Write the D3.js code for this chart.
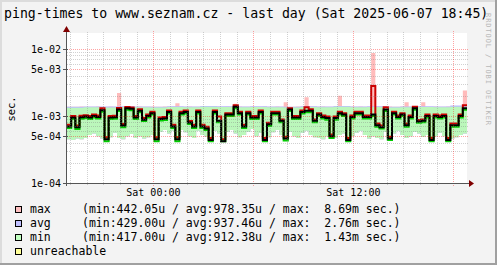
<!DOCTYPE html>
<html>
<head>
<meta charset="utf-8">
<script src="https://cdn.jsdelivr.net/npm/d3@7"></script>
<style>
  html, body { margin: 0; padding: 0; background: #f3f3f3; }
  svg { display: block; font-family: "DejaVu Sans Mono", monospace; }
  text { white-space: pre; }
</style>
</head>
<body>
<svg id="chart" width="497" height="265"></svg>
<script>
'use strict';

// ── Data (milliseconds, one value per 15 min, Fri 18:49 → Sat 18:49) ──
const avgRtt = [
  0.70, 0.95, 0.68, 0.96, 0.98, 0.95, 1.00, 0.97, 1.22, 0.45, 0.95, 0.96, 1.25, 0.72, 1.30, 1.28,
  0.95, 1.20, 0.88, 1.00, 1.10, 0.45, 0.90, 0.92, 1.15, 0.70, 0.45, 1.10, 1.15, 0.80, 0.70, 1.15,
  0.70, 0.65, 0.44, 1.15, 0.85, 0.42, 1.05, 1.05, 1.38, 1.10, 0.70, 1.10, 0.95, 0.95, 1.15, 0.44,
  0.75, 1.10, 1.10, 0.85, 0.46, 1.25, 0.95, 0.95, 1.15, 1.20, 1.20, 0.85, 1.05, 0.97, 0.93, 0.50,
  0.93, 1.10, 1.05, 0.44, 0.97, 1.10, 1.10, 0.97, 0.97, 1.05, 0.73, 0.68, 1.25, 0.46, 1.10, 0.97,
  1.05, 0.73, 0.97, 1.30, 0.83, 0.85, 1.00, 0.44, 1.00, 0.97, 1.00, 0.44, 0.73, 0.73, 1.00, 1.30
];
const maxRtt = [
  0.74, 1.00, 0.72, 1.01, 1.03, 1.00, 1.05, 1.02, 1.30, 0.48, 1.00, 1.01, 1.32, 0.76, 1.36, 1.34,
  1.00, 1.26, 0.93, 1.05, 1.16, 0.48, 0.95, 0.97, 1.21, 0.74, 0.48, 1.16, 1.21, 0.84, 0.74, 1.21,
  0.74, 0.69, 0.47, 1.21, 0.98, 0.45, 1.10, 1.10, 1.45, 1.16, 0.74, 1.16, 1.00, 1.00, 1.21, 0.47,
  0.79, 1.16, 1.16, 0.89, 0.49, 1.31, 1.00, 1.00, 1.21, 1.35, 1.26, 0.89, 1.10, 1.02, 0.98, 0.53,
  0.98, 1.16, 1.10, 0.47, 1.02, 1.16, 1.16, 1.02, 1.02, 2.80, 0.77, 0.72, 1.35, 0.49, 1.16, 1.02,
  1.10, 0.77, 1.02, 1.37, 0.87, 0.89, 1.05, 0.47, 1.05, 1.02, 1.05, 0.47, 0.77, 0.77, 1.05, 1.45
];
const minRtt = [
  0.66, 0.90, 0.64, 0.91, 0.93, 0.90, 0.95, 0.92, 1.16, 0.42, 0.90, 0.91, 1.19, 0.68, 1.24, 1.22,
  0.90, 1.14, 0.84, 0.95, 1.05, 0.42, 0.86, 0.87, 1.09, 0.66, 0.42, 1.05, 1.09, 0.76, 0.66, 1.09,
  0.66, 0.62, 0.42, 1.09, 0.81, 0.42, 1.00, 1.00, 1.31, 1.05, 0.66, 1.05, 0.90, 0.90, 1.09, 0.42,
  0.71, 1.05, 1.05, 0.81, 0.43, 1.19, 0.90, 0.90, 1.09, 1.14, 1.14, 0.81, 1.00, 0.92, 0.88, 0.47,
  0.88, 1.05, 1.00, 0.42, 0.92, 1.05, 1.05, 0.92, 0.92, 1.00, 0.69, 0.65, 1.19, 0.44, 1.05, 0.92,
  1.00, 0.69, 0.92, 1.24, 0.79, 0.81, 0.95, 0.42, 0.95, 0.92, 0.95, 0.42, 0.69, 0.69, 0.95, 1.24
];
// lower edge of the light bands
const minLow = [
  0.45, 0.44, 0.46, 0.45, 0.47, 0.52, 0.55, 0.50, 0.46, 0.44, 0.48, 0.56, 0.47, 0.45, 0.50, 0.54,
  0.47, 0.50, 0.46, 0.48, 0.52, 0.44, 0.58, 0.62, 0.55, 0.60, 0.44, 0.62, 0.57, 0.50, 0.47, 0.60,
  0.52, 0.49, 0.44, 0.60, 0.55, 0.42, 0.58, 0.62, 0.55, 0.48, 0.52, 0.58, 0.64, 0.50, 0.56, 0.44,
  0.48, 0.57, 0.62, 0.52, 0.45, 0.58, 0.50, 0.47, 0.56, 0.60, 0.52, 0.48, 0.47, 0.45, 0.50, 0.46,
  0.47, 0.52, 0.55, 0.44, 0.50, 0.56, 0.60, 0.52, 0.46, 0.50, 0.47, 0.45, 0.58, 0.45, 0.55, 0.60,
  0.52, 0.47, 0.50, 0.58, 0.55, 0.49, 0.52, 0.44, 0.50, 0.56, 0.50, 0.44, 0.46, 0.48, 0.52, 0.55
];
// upper edge of the pink band (max), per 15 min
const maxTop = [
  1.38, 1.38, 1.38, 1.39, 1.38, 1.38, 1.38, 1.39, 1.38, 1.38, 1.39, 1.38, 2.20, 1.38, 1.39, 1.38,
  1.38, 1.39, 1.38, 1.38, 1.39, 1.38, 1.38, 1.39, 1.38, 1.39, 1.55, 1.38, 1.38, 1.39, 1.38, 1.38,
  1.39, 1.38, 1.38, 1.39, 1.38, 1.38, 1.39, 1.38, 1.52, 1.39, 1.38, 1.38, 1.39, 1.38, 1.38, 1.39,
  1.38, 1.38, 1.39, 1.38, 1.60, 1.38, 1.38, 1.39, 1.38, 1.90, 1.39, 1.38, 1.38, 1.39, 1.38, 1.38,
  1.39, 2.00, 1.38, 1.38, 1.39, 1.38, 1.39, 1.38, 1.38, 8.69, 1.39, 1.38, 1.38, 1.39, 1.38, 1.38,
  1.39, 1.60, 1.38, 1.38, 1.39, 1.60, 1.38, 1.38, 1.39, 1.38, 1.38, 1.39, 1.38, 1.38, 1.39, 2.40
];
// upper edges of the lavender (avg) and green (min) bands, hourly
const avgTop = [1.38, 1.39, 1.39, 1.40, 1.39, 1.38, 1.40, 1.39, 1.41, 1.40, 1.39, 1.40,
                1.39, 1.38, 1.40, 1.39, 1.41, 1.39, 1.40, 1.38, 1.39, 1.40, 1.39, 1.43];
const minTop = [1.33, 1.35, 1.34, 1.36, 1.35, 1.34, 1.36, 1.35, 1.37, 1.36, 1.35, 1.36,
                1.35, 1.34, 1.36, 1.35, 1.37, 1.35, 1.36, 1.34, 1.35, 1.36, 1.35, 1.38];

const yLabelValues = [0.1, 0.5, 1, 5, 10];
const xLabelHours  = [0, 12];

const legendNames = ['max', 'avg', 'min', 'unreachable'];
const legendStats = [
  '(min:442.05u / avg:978.35u / max:  8.69m sec.)',
  '(min:429.00u / avg:937.46u / max:  2.76m sec.)',
  '(min:417.00u / avg:912.38u / max:  1.43m sec.)',
  ''
];

const TITLE = 'ping-times to www.seznam.cz - last day (Sat 2025-06-07 18:45)';

// ── Styling ────────────────────────────────────────────────────
const LEGEND_COLORS = ['#ffc0c0', '#c0c0ff', '#c0ffc0', '#ffff99'];
const COLOR_GRID    = 'rgba(128,128,128,0.36)';
const COLOR_MGRID   = 'rgba(255,0,0,0.36)';
const COLOR_AXIS    = '#555555';
const COLOR_ARROW   = '#800000';

const START   = Date.UTC(2025, 5, 6, 18, 49);
const STEP_MS = 15 * 60 * 1000;
const END     = START + avgRtt.length * STEP_MS;

const plot = { left: 67, right: 467, top: 33, bottom: 183 };

const svg = d3.select('#chart');

const x = d3.scaleUtc().domain([START, END]).range([plot.left, plot.right]);
const y = d3.scaleLog().domain([0.1, 17.33]).range([plot.bottom, plot.top]);

// ── Frame ──────────────────────────────────────────────────────
svg.append('rect').attr('width', 497).attr('height', 265).attr('fill', '#f3f3f3');
const frame = svg.append('g').attr('shape-rendering', 'crispEdges');
frame.append('rect').attr('x', 0).attr('y', 0).attr('width', 497).attr('height', 2).attr('fill', '#dcdcdc');
frame.append('rect').attr('x', 0).attr('y', 0).attr('width', 2).attr('height', 265).attr('fill', '#dcdcdc');
frame.append('rect').attr('x', 0).attr('y', 263).attr('width', 497).attr('height', 2).attr('fill', '#a0a0a0');
frame.append('rect').attr('x', 495).attr('y', 0).attr('width', 2).attr('height', 265).attr('fill', '#a0a0a0');

svg.append('rect')
  .attr('x', plot.left).attr('y', plot.top)
  .attr('width', plot.right - plot.left).attr('height', plot.bottom - plot.top)
  .attr('fill', '#ffffff');

// ── Title & watermark ──────────────────────────────────────────
svg.append('text')
  .attr('x', 4).attr('y', 18)
  .attr('font-size', 13.2)
  .attr('fill', '#000')
  .text(TITLE);

svg.append('text')
  .attr('transform', 'translate(486,13) rotate(90)')
  .attr('font-size', 7)
  .attr('textLength', 112)
  .attr('lengthAdjust', 'spacing')
  .attr('fill', '#b8b8b8')
  .text('RRDTOOL / TOBI OETIKER');

// ── Bands and lines ────────────────────────────────────────────
const pts = avgRtt.map((v, i) => ({ t: START + i * STEP_MS, i }));
pts.push({ t: END, i: avgRtt.length - 1 });

const clip = svg.append('defs').append('clipPath').attr('id', 'plotclip');
clip.append('rect')
  .attr('x', plot.left).attr('y', plot.top)
  .attr('width', plot.right - plot.left).attr('height', plot.bottom - plot.top);

const data = svg.append('g').attr('clip-path', 'url(#plotclip)');

function band(top) {
  return d3.area()
    .curve(d3.curveStepAfter)
    .x(d => x(d.t))
    .y0(d => y(minLow[d.i]))
    .y1(d => y(top(d.i)));
}

data.append('path').attr('d', band(i => maxTop[i])(pts)).attr('fill', '#ffbbbb');
data.append('path').attr('d', band(i => avgTop[Math.floor(i / 4)])(pts)).attr('fill', '#bbbbff');
data.append('path').attr('d', band(i => minTop[Math.floor(i / 4)])(pts)).attr('fill', '#bbf7bb');

// ── Grid ───────────────────────────────────────────────────────
const grid = svg.append('g').attr('shape-rendering', 'crispEdges').attr('stroke-dasharray', '1,1');

const minorY = [];
[0.1, 1, 10].forEach(dec => {
  for (let k = 2; k <= 9; k++) {
    const v = k * dec;
    if (v < 17.33 && !yLabelValues.some(l => Math.abs(l - v) < 1e-9)) minorY.push(v);
  }
});

grid.selectAll('line.ygrid')
  .data(minorY)
  .join('line')
    .attr('class', 'ygrid')
    .attr('x1', plot.left).attr('x2', plot.right + 1)
    .attr('y1', d => Math.round(y(d)) + 0.5).attr('y2', d => Math.round(y(d)) + 0.5)
    .attr('stroke', COLOR_GRID);

const hours = d3.utcHour.range(START, END);

grid.selectAll('line.xgrid')
  .data(hours.filter(h => h.getUTCHours() % 6 !== 0))
  .join('line')
    .attr('class', 'xgrid')
    .attr('x1', d => Math.round(x(d)) + 0.5).attr('x2', d => Math.round(x(d)) + 0.5)
    .attr('y1', plot.top - 1).attr('y2', plot.bottom + 2)
    .attr('stroke', COLOR_GRID);

grid.selectAll('line.ymgrid')
  .data(yLabelValues.slice(1))
  .join('line')
    .attr('class', 'ymgrid')
    .attr('x1', plot.left).attr('x2', plot.right + 1)
    .attr('y1', d => Math.round(y(d)) + 0.5).attr('y2', d => Math.round(y(d)) + 0.5)
    .attr('stroke', COLOR_MGRID);

grid.selectAll('line.xmgrid')
  .data(hours.filter(h => h.getUTCHours() % 6 === 0))
  .join('line')
    .attr('class', 'xmgrid')
    .attr('x1', d => Math.round(x(d)) + 0.5).attr('x2', d => Math.round(x(d)) + 0.5)
    .attr('y1', plot.top - 2).attr('y2', plot.bottom + 3)
    .attr('stroke', COLOR_MGRID);

// ── Lines (max red, min green, avg black on top) ───────────────
function stepLine(arr) {
  return d3.line()
    .curve(d3.curveStepAfter)
    .x(d => x(d.t))
    .y(d => y(arr[d.i]))(pts);
}

data.append('path').attr('d', stepLine(maxRtt)).attr('fill', 'none')
  .attr('stroke', '#cc0000').attr('stroke-width', 2);
data.append('path').attr('d', stepLine(minRtt)).attr('fill', 'none')
  .attr('stroke', '#00cc00').attr('stroke-width', 2);
data.append('path').attr('d', stepLine(avgRtt)).attr('fill', 'none')
  .attr('stroke', '#000000').attr('stroke-width', 2);

// ── Axes ───────────────────────────────────────────────────────
const axes = svg.append('g').attr('shape-rendering', 'crispEdges');

axes.append('line')
  .attr('x1', plot.left - 0.5).attr('x2', plot.left - 0.5)
  .attr('y1', plot.bottom + 3).attr('y2', plot.top - 2)
  .attr('stroke', COLOR_AXIS);
axes.append('line')
  .attr('x1', plot.left - 4).attr('x2', plot.right + 3)
  .attr('y1', plot.bottom + 0.5).attr('y2', plot.bottom + 0.5)
  .attr('stroke', COLOR_AXIS);

axes.selectAll('line.ytick')
  .data(yLabelValues)
  .join('line')
    .attr('class', 'ytick')
    .attr('x1', plot.left - 4).attr('x2', plot.left + 1)
    .attr('y1', d => Math.round(y(d)) + 0.5).attr('y2', d => Math.round(y(d)) + 0.5)
    .attr('stroke', COLOR_AXIS);

svg.append('path')
  .attr('d', `M${plot.left - 4},${plot.top - 1}L${plot.left + 3},${plot.top - 1}L${plot.left - 0.5},${plot.top - 7}Z`)
  .attr('fill', COLOR_ARROW);
svg.append('path')
  .attr('d', `M${plot.right + 2},${plot.bottom - 3}L${plot.right + 2},${plot.bottom + 4}L${plot.right + 7},${plot.bottom + 0.5}Z`)
  .attr('fill', COLOR_ARROW);

// ── Axis labels ────────────────────────────────────────────────
function expLabel(ms) {
  const s = ms / 1000;
  const e = Math.floor(Math.log10(s) + 1e-9);
  const m = Math.round(s / Math.pow(10, e));
  const sign = e < 0 ? '-' : '+';
  return `${m}e${sign}${String(Math.abs(e)).padStart(2, '0')}`;
}

svg.selectAll('text.ylab')
  .data(yLabelValues)
  .join('text')
    .attr('class', 'ylab')
    .attr('x', 61)
    .attr('y', d => y(d) + 3.6)
    .attr('text-anchor', 'end')
    .attr('font-size', 10)
    .text(expLabel);

svg.append('text')
  .attr('transform', 'translate(14.5,109) rotate(-90)')
  .attr('text-anchor', 'middle')
  .attr('font-size', 10.4)
  .text('sec.');

const fmtX = d3.utcFormat('%a %H:%M');
svg.selectAll('text.xlab')
  .data(hours.filter(h => xLabelHours.includes(h.getUTCHours())))
  .join('text')
    .attr('class', 'xlab')
    .attr('x', d => x(d))
    .attr('y', 196)
    .attr('text-anchor', 'middle')
    .attr('font-size', 10)
    .text(fmtX);

// ── Legend ─────────────────────────────────────────────────────
const legend = svg.append('g');
legendNames.forEach((name, k) => {
  const row = legend.append('g').attr('transform', `translate(0,${k * 14})`);
  row.append('rect')
    .attr('x', 15.5).attr('y', 206.5)
    .attr('width', 6).attr('height', 6)
    .attr('fill', LEGEND_COLORS[k])
    .attr('stroke', '#000')
    .attr('shape-rendering', 'crispEdges');
  row.append('text')
    .attr('x', 30).attr('y', 212.5)
    .attr('font-size', 11.5)
    .text(name);
  if (legendStats[k]) {
    row.append('text')
      .attr('x', 82).attr('y', 212.5)
      .attr('font-size', 11.5)
      .text(legendStats[k]);
  }
});
</script>
</body>
</html>
